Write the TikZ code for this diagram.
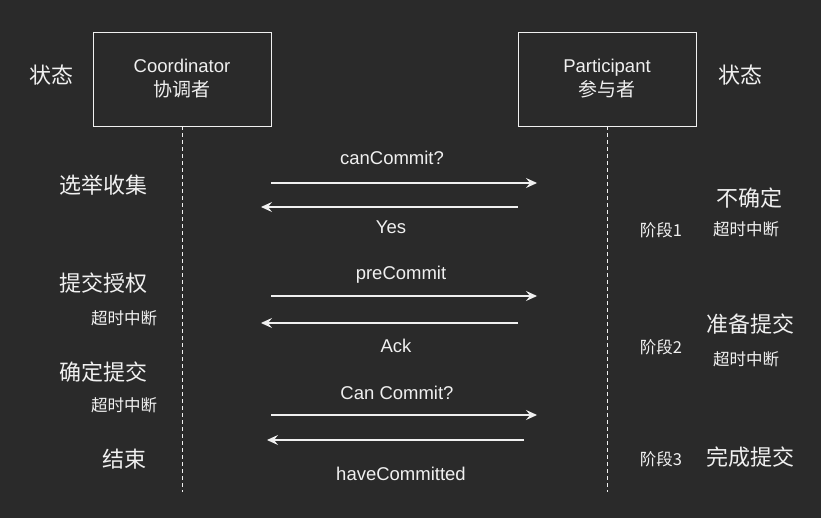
\documentclass[tikz,border=0pt]{standalone}
\usepackage{fontspec}
\setmainfont{Liberation Sans}
\newfontfamily\cjk{Noto Sans CJK SC}
\usetikzlibrary{arrows.meta}
\definecolor{bg}{HTML}{2A2A2A}
\definecolor{fg}{HTML}{F0F0F0}

\begin{document}
\begin{tikzpicture}[x=1pt,y=-1pt,
  every node/.style={text=fg,inner sep=0pt},
  actor/.style={draw=fg,line width=0.9pt,minimum width=178pt,minimum height=94pt,
    align=center,font=\fontsize{18.5}{24}\selectfont},
  state/.style={font=\cjk\fontsize{22}{26}\selectfont},
  note/.style={font=\cjk\fontsize{16.5}{19}\selectfont},
  msg/.style={font=\fontsize{18.5}{22}\selectfont},
  lifeline/.style={draw=fg,line width=0.9pt,dash pattern=on 4pt off 3pt},
  call/.style={draw=fg,line width=1.1pt,-{Stealth[length=11pt,width=10pt,inset=4pt]}}]
  \fill[bg] (0,0) rectangle (821,518);
  \useasboundingbox (0,0) rectangle (821,518);

  % actors
  \node[actor] (coord) at (182,79) {Coordinator\\{\cjk\fontsize{19}{24}\selectfont 协调者}};
  \node[actor] (part) at (607,79) {Participant\\{\cjk\fontsize{19}{24}\selectfont 参与者}};
  \node[state] (stL) at (51,75) {状态};
  \node[state] (stR) at (740,75) {状态};

  % lifelines
  \coordinate (coordEnd) at (182,492);
  \coordinate (partEnd) at (607,492);
  \draw[lifeline] (coord.south) -- (coordEnd);
  \draw[lifeline] (part.south) -- (partEnd);

  % message ends
  \coordinate (m1a) at (271,183); \coordinate (m1b) at (537,183);
  \coordinate (m2a) at (518,207); \coordinate (m2b) at (261,207);
  \coordinate (m3a) at (271,296); \coordinate (m3b) at (537,296);
  \coordinate (m4a) at (518,323); \coordinate (m4b) at (261,323);
  \coordinate (m5a) at (271,415); \coordinate (m5b) at (537,415);
  \coordinate (m6a) at (524,440); \coordinate (m6b) at (267,440);

  \draw[call] (m1a) -- (m1b);
  \draw[call] (m2a) -- (m2b);
  \draw[call] (m3a) -- (m3b);
  \draw[call] (m4a) -- (m4b);
  \draw[call] (m5a) -- (m5b);
  \draw[call] (m6a) -- (m6b);

  \node[msg] (canCommit) at (392,158) {canCommit?};
  \node[msg] (yes) at (391,227) {Yes};
  \node[msg] (preCommit) at (401,275) {preCommit};
  \node[msg] (ack) at (396,346) {Ack};
  \node[msg] (doCommit) at (397,393) {Can Commit?};
  \node[msg] (haveCommitted) at (401,474) {haveCommitted};

  % coordinator states
  \node[state] (collect) at (103,185) {选举收集};
  \node[state] (auth) at (103,283) {提交授权};
  \node[note] (toL1) at (124,318) {超时中断};
  \node[state] (confirm) at (103,372) {确定提交};
  \node[note] (toL2) at (124,405) {超时中断};
  \node[state] (finish) at (124,459) {结束};

  % participant states
  \node[state] (unsure) at (749,198) {不确定};
  \node[note] (toR1) at (746,229) {超时中断};
  \node[note] (phase1) at (661,230) {阶段1};
  \node[state] (prepare) at (750,324) {准备提交};
  \node[note] (toR2) at (746,359) {超时中断};
  \node[note] (phase2) at (661,347) {阶段2};
  \node[note] (phase3) at (661,459) {阶段3};
  \node[state] (done) at (750,457) {完成提交};
\end{tikzpicture}
\end{document}
